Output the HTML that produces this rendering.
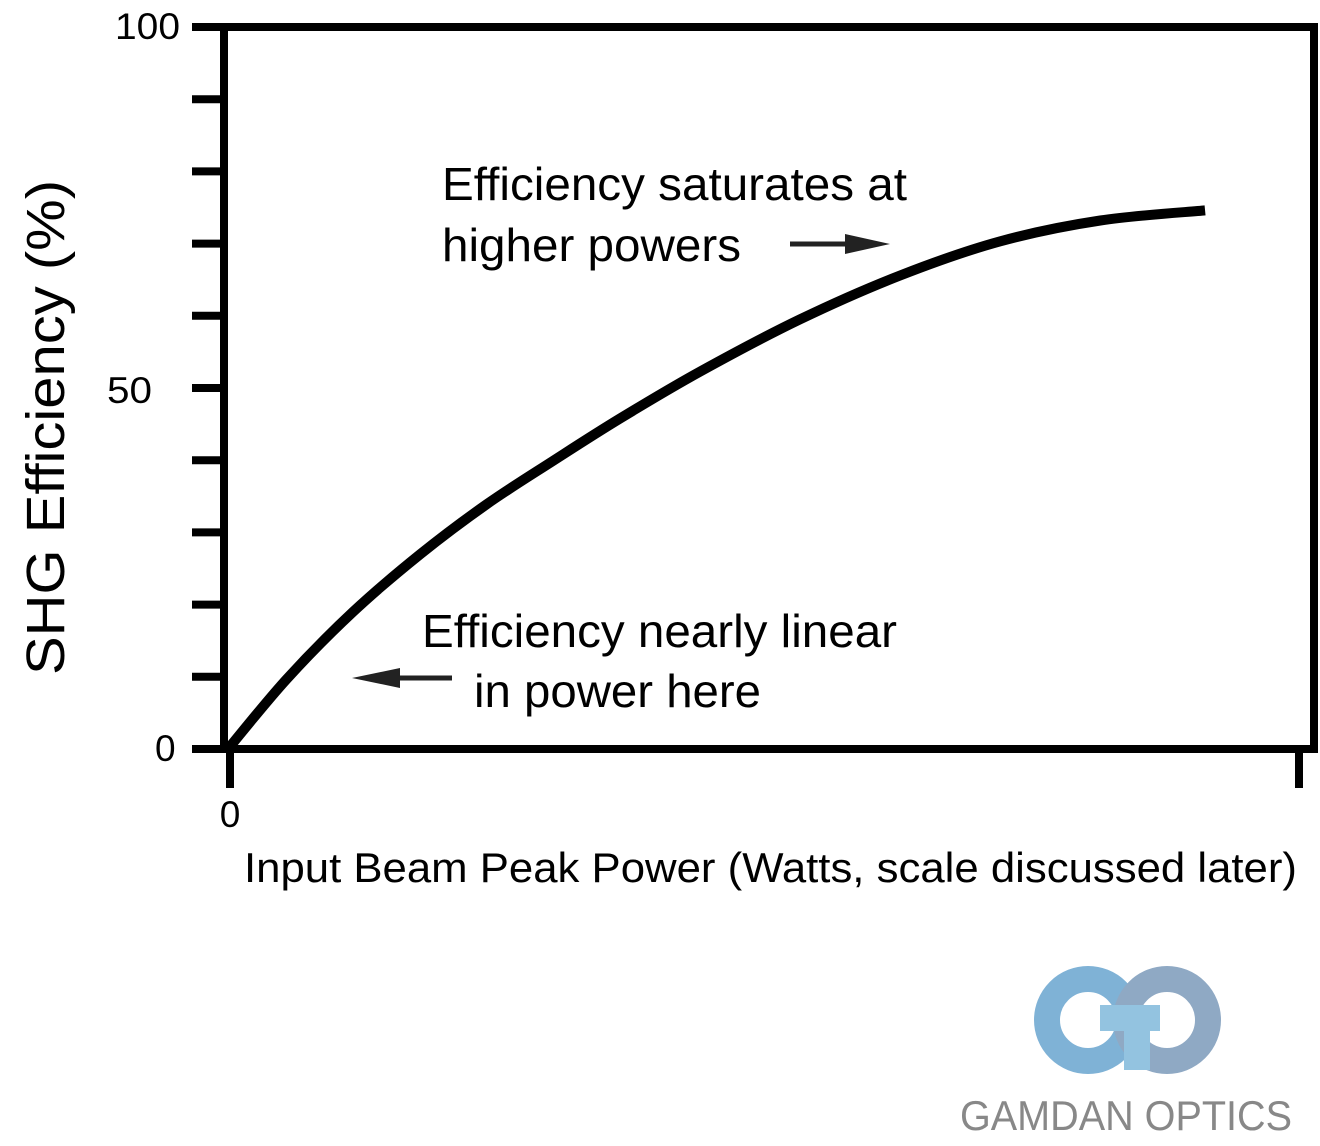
<!DOCTYPE html>
<html><head><meta charset="utf-8"><style>
body{margin:0;background:#fff;}
svg text{font-family:"Liberation Sans",sans-serif;}
</style></head><body>
<svg width="1320" height="1141" viewBox="0 0 1320 1141">
<g id="axes"></g>
<g id="series"></g>
<text x="115" y="39" font-size="37" textLength="65" lengthAdjust="spacingAndGlyphs">100</text>
<text x="107" y="403" font-size="37" textLength="45" lengthAdjust="spacingAndGlyphs">50</text>
<text x="155" y="761" font-size="37">0</text>
<text x="230" y="827" font-size="37" text-anchor="middle">0</text>
<text transform="translate(64,675) rotate(-90)" font-size="54" textLength="495" lengthAdjust="spacingAndGlyphs">SHG Efficiency (%)</text>
<text x="244" y="882" font-size="42" textLength="1053" lengthAdjust="spacingAndGlyphs">Input Beam Peak Power (Watts, scale discussed later)</text>
<text x="442" y="200" font-size="46" textLength="465" lengthAdjust="spacingAndGlyphs">Efficiency saturates at</text>
<text x="442" y="261" font-size="46" textLength="299" lengthAdjust="spacingAndGlyphs">higher powers</text>
<g><line x1="790" y1="244" x2="850" y2="244" stroke="#222" stroke-width="5"/><polygon points="845,234 890,244 845,254" fill="#222"/></g>
<text x="422" y="647" font-size="46" textLength="475" lengthAdjust="spacingAndGlyphs">Efficiency nearly linear</text>
<text x="474" y="707" font-size="46" textLength="287" lengthAdjust="spacingAndGlyphs">in power here</text>
<g><line x1="395" y1="678" x2="452" y2="678" stroke="#222" stroke-width="5"/><polygon points="400,668 352,678 400,688" fill="#222"/></g>
<g>
<circle cx="1088" cy="1020" r="41" fill="none" stroke="#7fb2d6" stroke-width="26"/>
<circle cx="1167" cy="1020" r="41" fill="none" stroke="#8fa9c4" stroke-width="26"/>
<rect x="1100" y="1005" width="60" height="26" fill="#93c3e0"/>
<rect x="1124" y="1005" width="26" height="65" fill="#93c3e0"/>
<text x="960" y="1130" font-size="42" fill="#888" textLength="332" lengthAdjust="spacingAndGlyphs">GAMDAN OPTICS</text>
</g>
</svg>
<script>
const yTicks=[0,10,20,30,40,50,60,70,80,90,100];
const xVals=[0,5.5,11.7,18.0,24.2,30.4,36.7,44.2,53.5,62.9,72.2,81.6,91.4];
const yVals=[0,9.7,19.0,27.0,33.9,39.9,45.8,52.3,59.5,65.6,70.3,73.2,74.6];
const X=v=>228+v*10.69, Y=v=>749-v*7.22;
const NS="http://www.w3.org/2000/svg";
const ax=document.getElementById('axes');
function mk(tag,attrs,parent){const e=document.createElementNS(NS,tag);for(const k in attrs)e.setAttribute(k,attrs[k]);parent.appendChild(e);return e;}
const fr=mk('rect',{x:224,y:27,width:1090,height:722,fill:'none',stroke:'#000','stroke-width':8},ax);


yTicks.forEach(t=>{const l=mk('line',{x1:192,x2:224,y1:Y(t),y2:Y(t),stroke:'#000','stroke-width':8},ax);

});
[0,100].forEach(t=>{const l=mk('line',{x1:X(t)+2,x2:X(t)+2,y1:749,y2:788,stroke:'#000','stroke-width':8},ax);

});
const pts=xVals.map((v,i)=>[X(v),Y(yVals[i])]);
let d='M'+pts[0][0]+','+pts[0][1];
for(let i=0;i<pts.length-1;i++){const p0=pts[i-1]||pts[i],p1=pts[i],p2=pts[i+1],p3=pts[i+2]||p2;
d+=` C${p1[0]+(p2[0]-p0[0])/6},${p1[1]+(p2[1]-p0[1])/6} ${p2[0]-(p3[0]-p1[0])/6},${p2[1]-(p3[1]-p1[1])/6} ${p2[0]},${p2[1]}`;}
const c=mk('path',{d:d,fill:'none',stroke:'#000','stroke-width':10},document.getElementById('series'));


</script>
</body></html>
